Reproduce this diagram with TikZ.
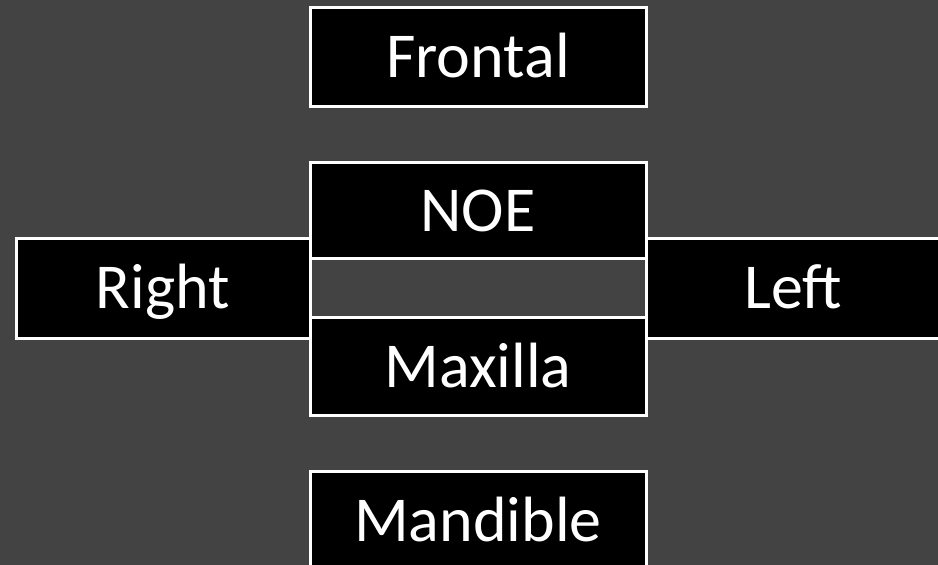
\documentclass[tikz,border=0pt]{standalone}
\usepackage{fontspec}
\setmainfont{Carlito}
\usetikzlibrary{positioning}
\definecolor{slate}{HTML}{434343}
\tikzset {
  bone node/.style = {
    draw = white,
    fill = black,
    line width = 3pt,
    outer sep = 0pt,
    inner sep = 0pt,
    text = white,
    font = \fontsize{64}{72}\selectfont,
    text height = 41pt,
    text depth = 0pt,
    minimum width = 336pt,
    minimum height = 97pt
  },
  % empty band between NOE and Maxilla
  gap node/.style = {
    bone node,
    fill = slate
  },
  % lateral boxes
  side node/.style = {
    bone node,
    minimum width = 294pt,
    minimum height = 100pt
  },
  node distance = 56pt
}
\begin{document}
\begin{tikzpicture}[x = 1pt, y = 1pt]
  \fill[slate] (0,0) rectangle (938,565);
  \useasboundingbox (0,0) rectangle (938,565);

  \node[gap node, minimum height = 59pt] (gap) at (478,276.5) {};
  \node[bone node, minimum height = 96pt] (noe) [above=0pt of gap] {NOE};
  \node[bone node, minimum height = 98pt] (maxilla) [below=0pt of gap] {Maxilla};
  \node[bone node, minimum height = 99pt] (frontal) [above=of noe] {Frontal};
  \node[bone node, minimum height = 99pt] (mandible) [below=of maxilla] {Mandible};
  \node[side node] (right) [left=0pt of gap] {Right};
  \node[side node] (left) [right=0pt of gap] {Left};
\end{tikzpicture}
\end{document}
